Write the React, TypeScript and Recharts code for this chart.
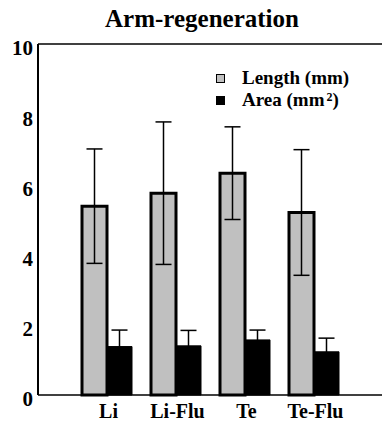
import React from 'react'
import { BarChart, Bar, XAxis, YAxis, ErrorBar } from 'recharts'

// values
const groups = ['Li', 'Li-Flu', 'Te', 'Te-Flu']
const lengthMm = [5.38, 5.75, 6.32, 5.2]
const lengthErr = [1.63, 2.03, 1.32, 1.79]
const areaMm2 = [1.38, 1.4, 1.57, 1.23]
const areaErr = [0.47, 0.44, 0.28, 0.39]
const yTicks = [0, 2, 4, 6, 8, 10]

const data = groups.map((name, i) => ({
  name,
  length: lengthMm[i],
  lengthErr: lengthErr[i],
  area: areaMm2[i],
  areaErr: areaErr[i],
}))

const serif = "'Liberation Serif', 'DejaVu Serif', serif"

function LegendBox() {
  const row = { display: 'flex', alignItems: 'center', height: 22 }
  const txt = { fontFamily: serif, fontWeight: 700, fontSize: 19, color: '#000', lineHeight: '22px', whiteSpace: 'nowrap' as const }
  return (
    <div style={{ position: 'absolute', left: 216, top: 67 }}>
      <div style={row}>
        <span style={{ width: 7, height: 7, background: '#c0c0c0', border: '1px solid #000', marginRight: 17 }} />
        <span style={txt}>Length (mm)</span>
      </div>
      <div style={row}>
        <span style={{ width: 9, height: 9, background: '#000', marginRight: 17 }} />
        <span style={txt}>
          Area (mm<span style={{ fontSize: 12, lineHeight: '12px', position: 'relative', top: -5, marginLeft: 2 }}>2</span>)
        </span>
      </div>
    </div>
  )
}

export default function App() {
  return (
    <div style={{ position: 'absolute', left: 0, top: 0, width: 382, height: 425, background: '#fff' }}>
      <BarChart
        width={382}
        height={425}
        data={data}
        margin={{ top: 44, right: 0, bottom: 0, left: 0 }}
        barSize={25}
        barGap={0}
      >
        <XAxis
          dataKey="name"
          height={30}
          padding={{ left: 34, right: 34 }}
          axisLine={{ stroke: '#000', strokeWidth: 1.5 }}
          tickLine={false}
          tickSize={0}
          tickMargin={9}
          tick={{ fontFamily: serif, fontWeight: 700, fontSize: 20, fill: '#000', dx: 2 }}
          interval={0}
        />
        <XAxis
          xAxisId="top"
          dataKey="name"
          orientation="top"
          mirror
          padding={{ left: 34, right: 34 }}
          axisLine={{ stroke: '#000', strokeWidth: 1.5 }}
          tickLine={{ stroke: '#000', strokeWidth: 1.5 }}
          tickSize={9}
          tick={false}
          interval={0}
        />
        <YAxis
          width={38}
          domain={[0, 10]}
          ticks={yTicks}
          axisLine={{ stroke: '#000', strokeWidth: 2 }}
          tickLine={false}
          tickSize={0}
          tickMargin={5}
          tick={{ fontFamily: serif, fontWeight: 700, fontSize: 21, fill: '#000', dy: 4 }}
        />
        <YAxis
          yAxisId="leftTicks"
          domain={[0, 10]}
          ticks={yTicks}
          allowDataOverflow
          mirror
          axisLine={false}
          tickLine={{ stroke: '#000', strokeWidth: 1.5 }}
          tickSize={10}
          tick={false}
        />
        <YAxis
          yAxisId="right"
          orientation="right"
          domain={[0, 10]}
          ticks={yTicks}
          allowDataOverflow
          mirror
          axisLine={false}
          tickLine={{ stroke: '#000', strokeWidth: 1.5 }}
          tickSize={5}
          tick={false}
        />
        <Bar dataKey="length" name="Length (mm)" fill="#c0c0c0" stroke="#000" strokeWidth={3} isAnimationActive={false}>
          <ErrorBar dataKey="lengthErr" width={8} stroke="#000" strokeWidth={1.5} />
        </Bar>
        <Bar dataKey="area" name="Area (mm2)" fill="#000" stroke="#000" strokeWidth={1} isAnimationActive={false}>
          <ErrorBar dataKey="areaErr" width={8} stroke="#000" strokeWidth={1.5} />
        </Bar>
      </BarChart>
      <div
        style={{
          position: 'absolute', left: 0, top: 4, width: 404, textAlign: 'center',
          fontFamily: serif, fontWeight: 700, fontSize: 25, lineHeight: '30px', color: '#000',
        }}
      >
        Arm-regeneration
      </div>
      <LegendBox />
    </div>
  )
}
